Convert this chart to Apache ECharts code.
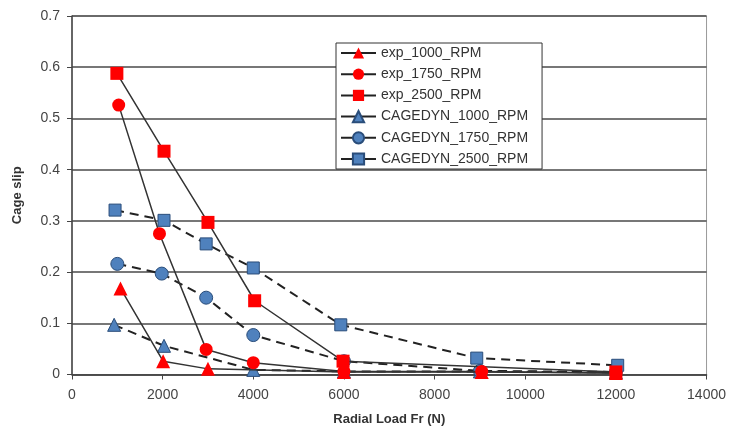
<!DOCTYPE html>
<html>
<head>
<meta charset="utf-8">
<script src="https://cdn.jsdelivr.net/npm/echarts@6/dist/echarts.min.js"></script>
<style>
  html, body { margin: 0; padding: 0; background: #fff; }
  #chart { width: 729px; height: 432px; }
</style>
</head>
<body>
<div id="chart"></div>
<script>
// radial load (N) and cage slip
var exp1000X = [1070, 2010, 3000, 6000, 9040, 12000];
var exp1000Y = [0.168, 0.026, 0.011, 0.005, 0.005, 0.003];
var exp1750X = [1030, 1930, 2960, 4000, 6000, 9040, 12000];
var exp1750Y = [0.526, 0.275, 0.049, 0.023, 0.006, 0.006, 0.003];
var exp2500X = [990, 2030, 3000, 4030, 5980, 12000];
var exp2500Y = [0.588, 0.436, 0.297, 0.144, 0.026, 0.005];
var cd1000X = [930, 2030, 4000, 6000, 9000, 12000];
var cd1000Y = [0.097, 0.056, 0.009, 0.006, 0.006, 0.004];
var cd1750X = [1000, 1980, 2960, 4000, 6000, 9000, 12000];
var cd1750Y = [0.216, 0.197, 0.15, 0.077, 0.026, 0.007, 0.005];
var cd2500X = [950, 2030, 2960, 4000, 5930, 8930, 12040];
var cd2500Y = [0.321, 0.301, 0.255, 0.208, 0.097, 0.032, 0.018];
var seriesNames = ['exp_1000_RPM', 'exp_1750_RPM', 'exp_2500_RPM',
  'CAGEDYN_1000_RPM', 'CAGEDYN_1750_RPM', 'CAGEDYN_2500_RPM'];

function pairs(xs, ys) {
  return xs.map(function (x, i) { return [x, ys[i]]; });
}

var font = 'Liberation Sans, Arial, sans-serif';

// measured series sit on top of the simulated ones
function expSeries(name, xs, ys, symbol, size) {
  return {
    name: name,
    type: 'line',
    data: pairs(xs, ys),
    symbol: symbol,
    symbolSize: size,
    showAllSymbol: true,
    z: 4,
    lineStyle: { color: '#333', width: 1.5, type: 'solid' },
    itemStyle: { color: '#ff0000' },
    animation: false
  };
}

function cdSeries(name, xs, ys, symbol, size) {
  return {
    name: name,
    type: 'line',
    data: pairs(xs, ys),
    symbol: symbol,
    symbolSize: size,
    showAllSymbol: true,
    z: 3,
    lineStyle: { color: '#222', width: 2, type: [9, 6] },
    itemStyle: { color: '#4f81bd', borderColor: '#2a4d7a', borderWidth: 1 },
    animation: false
  };
}

var chart = echarts.init(document.getElementById('chart'));
chart.setOption({
  backgroundColor: '#fff',
  animation: false,
  grid: {
    left: 72, right: 22, top: 16, bottom: 57.5,
    show: true, borderColor: '#999', borderWidth: 1
  },
  legend: {
    orient: 'vertical',
    left: 336, top: 43,
    padding: [3, 14, 3, 4],
    itemWidth: 35, itemHeight: 14, itemGap: 7.2,
    backgroundColor: '#fff',
    borderColor: '#333', borderWidth: 1, borderRadius: 0,
    lineStyle: { color: '#222', width: 2, type: 'solid' },
    textStyle: { fontFamily: font, fontSize: 14, color: '#333' },
    data: seriesNames
  },
  xAxis: {
    type: 'value',
    min: 0, max: 14000, interval: 2000,
    name: 'Radial Load Fr (N)',
    nameLocation: 'middle',
    nameGap: 38,
    nameTextStyle: { fontFamily: font, fontSize: 13, fontWeight: 'bold', color: '#333' },
    axisLine: { lineStyle: { color: '#444', width: 1.5 } },
    axisTick: { show: true, length: 5, lineStyle: { color: '#444' } },
    axisLabel: {
      fontFamily: font, fontSize: 14, color: '#444', margin: 14,
      formatter: function (v) { return String(v); }
    },
    splitLine: { show: false }
  },
  yAxis: {
    type: 'value',
    min: 0, max: 0.7, interval: 0.1,
    name: 'Cage slip',
    nameLocation: 'middle',
    nameGap: 48,
    nameTextStyle: { fontFamily: font, fontSize: 13, fontWeight: 'bold', color: '#333' },
    axisLine: { show: true, lineStyle: { color: '#444', width: 1.5 } },
    axisTick: { show: true, length: 5, lineStyle: { color: '#444' } },
    axisLabel: { fontFamily: font, fontSize: 14, color: '#444', margin: 12 },
    splitLine: { show: true, lineStyle: { color: '#4a4a4a', width: 1.5 } }
  },
  series: [
    expSeries(seriesNames[0], exp1000X, exp1000Y, 'triangle', 14),
    expSeries(seriesNames[1], exp1750X, exp1750Y, 'circle', 13),
    expSeries(seriesNames[2], exp2500X, exp2500Y, 'rect', 13),
    cdSeries(seriesNames[3], cd1000X, cd1000Y, 'triangle', 13),
    cdSeries(seriesNames[4], cd1750X, cd1750Y, 'circle', 13),
    cdSeries(seriesNames[5], cd2500X, cd2500Y, 'rect', 12)
  ]
});
</script>
</body>
</html>
